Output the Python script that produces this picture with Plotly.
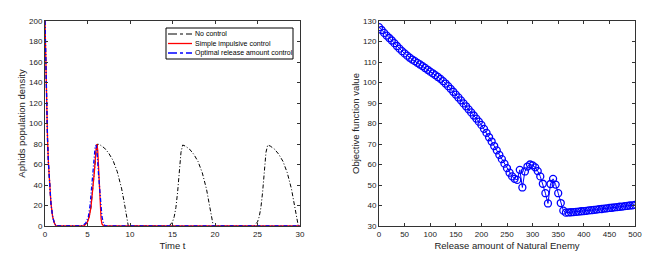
import plotly.graph_objects as go

# ---------- Left panel data ----------
t_no = [0, 0.1, 0.2, 0.3, 0.4, 0.5, 0.7, 0.9, 1.1, 1.3, 4.6, 5.0, 5.2, 5.4, 5.6, 5.8, 6.0, 6.2, 6.5, 7.0, 7.5,
        8.0, 8.5, 9.0, 9.3, 9.6, 9.8, 14.6, 15.0, 15.2, 15.4, 15.6, 15.8, 16.0, 16.2, 16.5, 17.0, 17.5, 18.0,
        18.5, 19.0, 19.3, 19.6, 19.8, 24.6, 25.0, 25.2, 25.4, 25.6, 25.8, 26.0, 26.2, 26.5, 27.0, 27.5, 28.0,
        28.5, 29.0, 29.3, 29.6, 29.8, 30]
y_no = [200, 150, 112, 84, 62, 45, 22, 9, 3, 0, 0, 4, 9, 18, 33, 52, 72, 80, 79, 76, 71,
        64, 53, 37, 24, 8, 0, 0, 4, 9, 18, 33, 52, 72, 79, 78, 75, 70,
        63, 52, 36, 23, 8, 0, 0, 4, 9, 18, 33, 52, 72, 79, 78, 75, 70,
        63, 52, 36, 23, 8, 0, 0]

t_red = [0, 0.1, 0.2, 0.3, 0.4, 0.5, 0.7, 0.9, 1.1, 1.3, 4.6, 5.0, 5.2, 5.4, 5.6, 5.8, 6.0, 6.1, 6.2, 6.3,
         6.4, 6.5, 6.6, 6.7, 6.9, 30]
y_red = [200, 150, 112, 84, 62, 45, 22, 9, 3, 0, 0, 4, 9, 18, 33, 52, 74, 80, 74, 55,
         34, 17, 7, 2, 0, 0]

t_opt = [0, 0.1, 0.2, 0.3, 0.4, 0.5, 0.7, 0.9, 1.1, 1.3, 4.4, 4.8, 5.1, 5.3, 5.5, 5.7, 5.9, 6.0, 6.1, 6.3,
         6.5, 6.7, 6.9, 7.1, 30]
y_opt = [200, 150, 112, 84, 62, 45, 22, 9, 3, 0, 0, 3, 9, 20, 38, 60, 77, 79, 75, 50,
         24, 9, 2, 0, 0]

legend_labels = ["No control", "Simple impulsive control", "Optimal release amount control"]

# ---------- Right panel data ----------
release = list(range(0, 505, 5))
objective = [127.0, 125.6, 124.2, 122.9, 121.7, 120.5, 119.2, 117.8, 116.5, 115.3,
             114.2, 113.1, 112.1, 111.2, 110.4, 109.6, 108.8, 108.0, 107.1, 106.2,
             105.3, 104.5, 103.6, 102.7, 101.8, 100.7, 99.5, 98.2, 96.9, 95.5,
             94.1, 92.7, 91.3, 89.8, 88.4, 86.9, 85.4, 83.9, 82.4, 80.9,
             79.3, 77.4, 75.4, 73.3, 71.2, 69.0, 66.9, 64.7, 62.6, 60.4,
             58.2, 56.0, 54.2, 53.0, 52.5, 57.4, 48.8, 56.6, 59.0, 60.0,
             59.6, 58.6, 56.8, 54.2, 50.6, 46.0, 41.0, 50.5, 53.0, 50.2,
             46.0, 41.2, 37.5, 36.5, 36.6, 36.7, 36.8, 36.9, 37.0, 37.2,
             37.3, 37.4, 37.6, 37.7, 37.9, 38.0, 38.2, 38.3, 38.5, 38.6,
             38.8, 38.9, 39.1, 39.2, 39.4, 39.5, 39.7, 39.8, 40.0, 40.1,
             40.3]

FONT = "Liberation Sans, Arial, sans-serif"
DASHDOT = "4px,2px,1px,2px"

# The page body has an 8px margin: the figure is 650x250 and
# reference pixel positions are converted with an 8px offset.
OFF = 8
W, H = 650.0, 250.0
def px(x):
    return (x - OFF) / W
def py(y):
    return 1 - (y - OFF) / H

fig = go.Figure()
fig.add_trace(go.Scatter(x=t_no, y=y_no, mode="lines", name=legend_labels[0],
                         line=dict(color="black", width=1, dash=DASHDOT), xaxis="x", yaxis="y"))
fig.add_trace(go.Scatter(x=t_red, y=y_red, mode="lines", name=legend_labels[1],
                         line=dict(color="#ff0000", width=1.3), xaxis="x", yaxis="y"))
fig.add_trace(go.Scatter(x=t_opt, y=y_opt, mode="lines", name=legend_labels[2],
                         line=dict(color="#0000ff", width=1.3, dash=DASHDOT), xaxis="x", yaxis="y"))
fig.add_trace(go.Scatter(x=release, y=objective, mode="lines+markers",
                         line=dict(color="#0000ff", width=1),
                         marker=dict(symbol="circle-open", size=7, color="#0000ff", line=dict(width=1.3)),
                         xaxis="x2", yaxis="y2"))

axis_common = dict(showline=True, linecolor="#333333", linewidth=1, mirror="ticks", ticks="inside",
                   ticklen=3, tickcolor="#333333", showgrid=False, zeroline=False, automargin=False,
                   tickfont=dict(family=FONT, size=8, color="#222222"),
                   title_font=dict(family=FONT, size=9.5, color="#222222"))

# Manual compact legend (box, line samples, labels)
shapes = [dict(type="rect", xref="paper", yref="paper",
               x0=px(166), x1=px(293), y0=py(59), y1=py(28),
               line=dict(color="black", width=1), fillcolor="white", layer="above")]
rows_y = [34, 43.5, 53]
styles = [dict(color="black", width=1, dash="dashdot"),
          dict(color="#ff0000", width=1.3),
          dict(color="#0000ff", width=1.3, dash="dashdot")]
annotations = []
for yy, st, lab in zip(rows_y, styles, legend_labels):
    shapes.append(dict(type="line", xref="paper", yref="paper", x0=px(168), x1=px(192),
                       y0=py(yy), y1=py(yy), line=st, layer="above"))
    annotations.append(dict(text=lab, xref="paper", yref="paper", x=px(193), y=py(yy),
                            xanchor="left", yanchor="middle", showarrow=False,
                            font=dict(family=FONT, size=7, color="black")))

fig.update_layout(
    width=int(W), height=int(H), paper_bgcolor="white", plot_bgcolor="white",
    margin=dict(l=0, r=0, t=0, b=0), showlegend=False,
    xaxis=dict(domain=[px(45), px(300)], range=[0, 30], dtick=5, anchor="y",
               title=dict(text="Time t", standoff=4), **axis_common),
    yaxis=dict(domain=[py(226), py(21)], range=[0, 200], dtick=20, anchor="x",
               title=dict(text="Aphids population density", standoff=1), **axis_common),
    xaxis2=dict(domain=[px(379), px(635)], range=[0, 500], dtick=50, anchor="y2",
                title=dict(text="Release amount of Natural Enemy", standoff=4), **axis_common),
    yaxis2=dict(domain=[py(226), py(21)], range=[30, 130], dtick=10, anchor="x2",
                title=dict(text="Objective function value", standoff=1), **axis_common),
    shapes=shapes, annotations=annotations,
)

fig.write_html("out.html")
